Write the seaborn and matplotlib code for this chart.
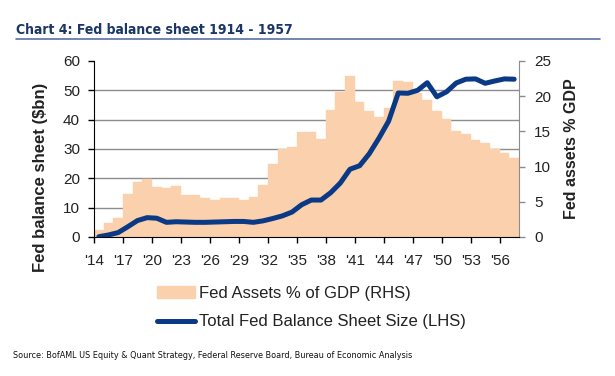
import numpy as np
import pandas as pd
import matplotlib.pyplot as plt
from matplotlib.lines import Line2D
import matplotlib.patches as mpatches
import seaborn as sns

# data
years = np.arange(1914, 1958)
pct_gdp = [1.0, 1.95, 2.65, 6.1, 7.8, 8.3, 7.15, 6.9, 7.2, 5.95,
           5.9, 5.6, 5.25, 5.5, 5.5, 5.25, 5.7, 7.4, 10.3, 12.45,
           12.8, 14.95, 14.9, 13.9, 18.0, 20.6, 22.9, 19.2, 17.9, 17.1,
           18.3, 22.15, 22.05, 20.5, 19.45, 17.95, 16.75, 15.05, 14.6, 13.8,
           13.4, 12.45, 11.9, 11.25]
balance_bn = [0.1, 0.7, 1.5, 3.5, 5.6, 6.6, 6.4, 5.0, 5.2, 5.1,
              5.0, 5.0, 5.1, 5.2, 5.3, 5.3, 5.0, 5.5, 6.3, 7.2,
              8.5, 11.0, 12.6, 12.6, 15.1, 18.4, 23.1, 24.3, 28.4, 33.7,
              39.5, 49.1, 49.0, 50.0, 52.6, 47.8, 49.5, 52.5, 53.8, 53.9,
              52.4, 53.2, 53.9, 53.8]
xtick_years = np.arange(1914, 1957, 3)
xtick_labels = ["'" + str(y)[2:] for y in xtick_years]

df = pd.DataFrame({'year': years, 'pct': pct_gdp, 'bn': balance_bn})

sns.set_style('white')
plt.rcParams['font.family'] = ['Liberation Sans', 'DejaVu Sans']

peach = '#FBD0AC'
navy = '#0A3A85'

fig = plt.figure(figsize=(6.15, 3.76), dpi=100)
ax = fig.add_axes([94 / 615, 1 - 237 / 376, 425 / 615, 176 / 376])
ax2 = ax.twinx()
ax.set_zorder(ax2.get_zorder() + 1)
ax.patch.set_visible(False)

# bars: Fed assets % of GDP (right axis)
sns.histplot(data=df, x='year', weights='pct', binwidth=1, binrange=(1914, 1958),
             color=peach, alpha=1, linewidth=0.3, edgecolor=peach, ax=ax2)

# line: total balance sheet (left axis)
sns.lineplot(x=df['year'] + 0.5, y=df['bn'], color=navy, linewidth=3.6,
             ax=ax, solid_capstyle='round', solid_joinstyle='round')

ax.set_xlim(1914, 1958)
ax.set_ylim(0, 60)
ax2.set_ylim(0, 25)

ax.set_yticks(np.arange(0, 61, 10))
ax2.set_yticks(np.arange(0, 26, 5))
ax2.set_yticks(np.arange(10, 61, 10) * 25 / 60, minor=True)
ax2.grid(which='minor', axis='y', color='#8c8c8c', linewidth=1)
ax2.tick_params(axis='y', which='minor', length=0)
ax.set_xticks(xtick_years)
ax.set_xticklabels(xtick_labels)

for s in ['top', 'right']:
    ax.spines[s].set_visible(False)
ax.spines['left'].set_color('black')
ax.spines['bottom'].set_color('black')
for s in ['top', 'left', 'bottom']:
    ax2.spines[s].set_visible(False)
ax2.spines['right'].set_color('#8c8c8c')

ax.tick_params(axis='both', direction='out', length=4, width=1, colors='black',
               labelcolor='#222222', labelsize=11, left=True, bottom=True)
ax.tick_params(axis='y', pad=6)
ax.tick_params(axis='x', pad=8)
ax2.tick_params(axis='y', which='major', direction='out', length=4, width=1,
                colors='#8c8c8c', labelcolor='#222222', labelsize=11, pad=7, right=True)

ax.set_xlabel('')
ax.set_ylabel('Fed balance sheet ($bn)', fontsize=12, fontweight='bold', color='#222222')
ax.yaxis.set_label_coords(-0.108, 0.34)
ax2.set_xlabel('')
ax2.set_ylabel('Fed assets % GDP', fontsize=11.5, fontweight='bold', color='#222222')
ax2.yaxis.set_label_coords(1.105, 0.5)

handles = [mpatches.Patch(color=peach, label='Fed Assets % of GDP (RHS)'),
           Line2D([], [], color=navy, linewidth=3.6, label='Total Fed Balance Sheet Size (LHS)')]
fig.legend(handles=handles, loc='upper left', bbox_to_anchor=(157 / 615, 1 - 286 / 376),
           frameon=False, fontsize=12, handlelength=2.3, handletextpad=0.2,
           labelspacing=0.8, borderpad=0, borderaxespad=0, labelcolor='#222222')

fig.text(16 / 615, 1 - 33.5 / 376, 'Chart 4: Fed balance sheet 1914 - 1957',
         family=['DejaVu Sans', 'Liberation Sans'], fontstretch='condensed',
         fontweight='bold', fontsize=10, color='#1B3767', va='baseline')
fig.add_artist(Line2D([16 / 615, 600 / 615], [1 - 39.3 / 376] * 2,
                      color='#5B70A8', linewidth=1.2))
fig.text(13 / 615, 1 - 358 / 376,
         'Source: BofAML US Equity & Quant Strategy, Federal Reserve Board, Bureau of Economic Analysis',
         family=['DejaVu Sans', 'Liberation Sans'], fontstretch='condensed',
         fontsize=6.5, color='#111111', va='baseline')

fig.savefig('out.png', dpi=100)
